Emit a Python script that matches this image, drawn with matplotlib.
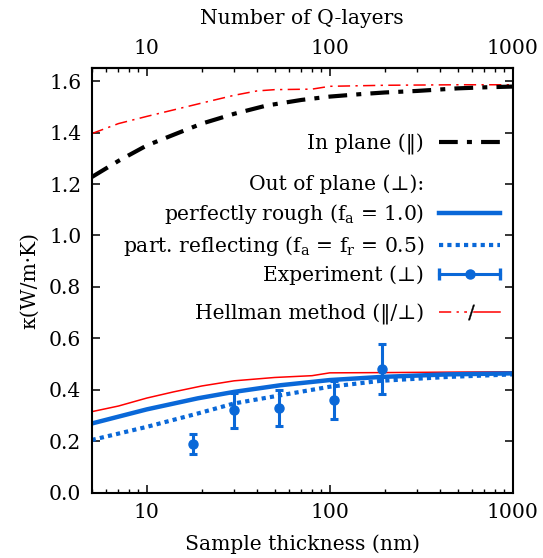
import matplotlib
matplotlib.use("Agg")
import matplotlib.pyplot as plt
import numpy as np
from matplotlib.lines import Line2D
from matplotlib.legend_handler import HandlerBase
from matplotlib.ticker import ScalarFormatter, NullFormatter, FixedLocator

plt.rcParams['font.family'] = ['DejaVu Serif', 'DejaVu Sans']
plt.rcParams['mathtext.fontset'] = 'dejavuserif'
plt.rcParams['font.size'] = 14.6

BLUE = '#0a68d8'

# in plane, model
t_in = [5, 7, 10, 15, 20, 30, 45, 70, 100, 150, 200, 300, 500, 700, 1000]
k_in = [1.227, 1.29, 1.350, 1.400, 1.435, 1.473, 1.505, 1.527, 1.540, 1.550,
        1.556, 1.562, 1.572, 1.576, 1.579]

# in plane, Hellman method
t_hel_in = [5, 7, 10, 20, 30, 40, 50, 80, 100, 200, 500, 1000]
k_hel_in = [1.396, 1.435, 1.463, 1.515, 1.545, 1.562, 1.567, 1.569, 1.580,
            1.584, 1.586, 1.586]

# out of plane, Hellman method
t_hel_out = [5, 7, 10, 14, 20, 30, 50, 80, 100, 200, 500, 1000]
k_hel_out = [0.315, 0.337, 0.368, 0.392, 0.415, 0.435, 0.448, 0.455, 0.466,
             0.467, 0.469, 0.470]

# out of plane, perfectly rough
t_rough = [5, 10, 19, 30, 54, 100, 190, 440, 1000]
k_rough = [0.269, 0.324, 0.367, 0.392, 0.418, 0.438, 0.450, 0.460, 0.464]

# out of plane, partially reflecting
t_part = [5, 10, 19, 30, 54, 100, 190, 440, 1000]
k_part = [0.205, 0.256, 0.308, 0.347, 0.379, 0.412, 0.435, 0.450, 0.460]

# experiment
t_exp = [18, 30, 53, 105, 192]
k_exp = [0.19, 0.32, 0.33, 0.36, 0.48]
e_exp = [0.04, 0.067, 0.07, 0.073, 0.097]

y_ticks = [0.0, 0.2, 0.4, 0.6, 0.8, 1.0, 1.2, 1.4, 1.6]
x_ticks = [10, 100, 1000]


class ErrHandler(HandlerBase):
    def create_artists(self, legend, orig, xd, yd, w, h, fs, trans):
        y = h / 2 - yd
        x0, x1 = -xd, -xd + w
        line = Line2D([x0, x1], [y, y], color=BLUE, lw=2.2)
        dot = Line2D([(x0 + x1) / 2], [y], marker='o', ms=6.5, color=BLUE)
        caps = Line2D([x0, x1], [y, y], ls='none', marker='|', ms=9,
                      mew=2.4, color=BLUE)
        for a in (line, dot, caps):
            a.set_transform(trans)
        return [line, dot, caps]


class SplitHandler(HandlerBase):
    def create_artists(self, legend, orig, xd, yd, w, h, fs, trans):
        y = h / 2 - yd
        x0, x1 = -xd, -xd + w
        xm = x0 + 0.53 * w
        l1 = Line2D([x0, xm - 3], [y, y], color='red', lw=1.1,
                    dashes=[8, 3.5, 1.5, 3.5])
        l2 = Line2D([xm + 2, x1], [y, y], color='red', lw=1.1)
        s = Line2D([xm], [y], ls='none', marker='$/$', ms=11, color='k',
                   mew=0.3)
        for a in (l1, l2, s):
            a.set_transform(trans)
        return [l1, l2, s]


fig = plt.figure(figsize=(5.43, 5.58), dpi=100)
ax = fig.add_axes([0.1689, 0.117, 0.7753, 0.7606])

ax.plot(t_hel_in, k_hel_in, color='red', lw=1.1, dashes=[8, 3.5, 1.5, 3.5])
l_in, = ax.plot(t_in, k_in, color='k', lw=3, dashes=[4.5, 2.2, 1.2, 2.2])
ax.plot(t_hel_out, k_hel_out, color='red', lw=1.1)
l_rough, = ax.plot(t_rough, k_rough, color=BLUE, lw=3.2)
l_part, = ax.plot(t_part, k_part, color=BLUE, lw=3, dashes=[1, 1])
err = ax.errorbar(t_exp, k_exp, yerr=e_exp, fmt='o', color=BLUE, ms=6.5,
                  elinewidth=2.2, capsize=3, capthick=2.2)

ax.set_xscale('log')
ax.set_xlim(5, 1000)
ax.set_ylim(0, 1.65)
ax.set_yticks(y_ticks)
ax.set_yticklabels([f'{v:.1f}' for v in y_ticks])
ax.xaxis.set_major_locator(FixedLocator(x_ticks))
ax.xaxis.set_major_formatter(ScalarFormatter())
ax.xaxis.set_minor_formatter(NullFormatter())
ax.tick_params(which='both', direction='in', right=True, top=False)
ax.tick_params(which='major', length=6, width=1.1, pad=7.5)
ax.tick_params(which='minor', length=3, width=1)
for sp in ax.spines.values():
    sp.set_linewidth(1.5)

ax.set_xlabel('Sample thickness (nm)', labelpad=9)
ax.set_ylabel('κ(W/m·K)', labelpad=7)

sec = ax.secondary_xaxis('top')
sec.xaxis.set_major_locator(FixedLocator(x_ticks))
sec.xaxis.set_major_formatter(ScalarFormatter())
sec.xaxis.set_minor_formatter(NullFormatter())
sec.tick_params(which='both', direction='in')
sec.tick_params(which='major', length=6, width=1.1, pad=7.5)
sec.tick_params(which='minor', length=3, width=1)
sec.spines['top'].set_linewidth(1.5)
sec.set_xlabel('Number of Q-layers', labelpad=11)

blank = Line2D([], [], color='none')
hel = Line2D([], [], color='red')

common = dict(frameon=False, markerfirst=False, handlelength=3.0,
              handletextpad=0.75, borderpad=0, borderaxespad=0,
              loc='center right')

legA = ax.legend([l_in], ['In plane (‖)'], bbox_to_anchor=(0.970, 0.8217),
                 **common)
ax.add_artist(legA)
legB = ax.legend([blank, l_rough, l_part, err],
                 ['Out of plane (⊥):',
                  r'perfectly rough (f$_\mathrm{a}$ = 1.0)',
                  r'part. reflecting (f$_\mathrm{a}$ = f$_\mathrm{r}$ = 0.5)',
                  'Experiment (⊥)'],
                 bbox_to_anchor=(0.970, 0.619), labelspacing=0.38,
                 handler_map={err: ErrHandler()}, **common)
ax.add_artist(legB)
ax.legend([hel], ['Hellman method (‖/⊥)'], bbox_to_anchor=(0.970, 0.420),
          handler_map={hel: SplitHandler()}, **common)

fig.savefig('out.png', dpi=100)
